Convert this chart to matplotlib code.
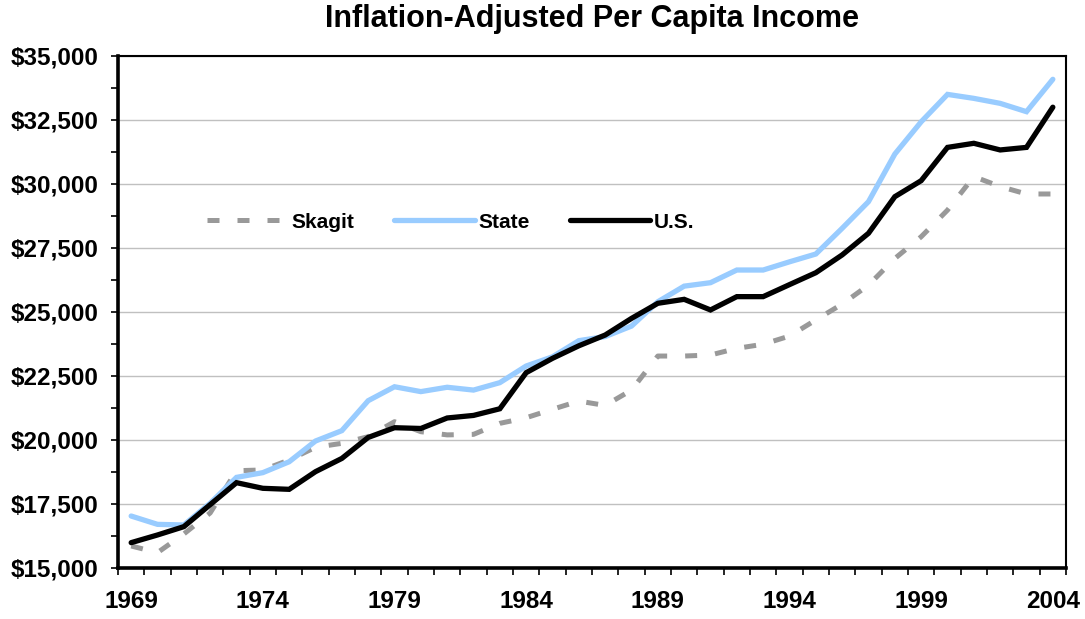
import matplotlib
matplotlib.use("Agg")
import matplotlib.pyplot as plt
from matplotlib.ticker import FuncFormatter, MultipleLocator, FixedLocator

years = list(range(1969, 2005))
skagit = [15860, 15600, 16330, 17150, 18800, 18830, 19220, 19715, 19870, 20130,
          20715, 20325, 20200, 20220, 20650, 20870, 21200, 21520, 21350, 21950,
          23280, 23280, 23320, 23580, 23740, 24060, 24690, 25310, 26050, 27090,
          27940, 28980, 30290, 29900, 29610, 29610]
state = [17030, 16705, 16680, 17530, 18540, 18725, 19150, 19960, 20365, 21535,
         22080, 21890, 22060, 21950, 22240, 22890, 23250, 23880, 24040, 24450,
         25400, 26010, 26145, 26640, 26640, 26960, 27265, 28270, 29310, 31170,
         32430, 33500, 33345, 33150, 32825, 34090]
us = [15990, 16290, 16615, 17475, 18333, 18113, 18073, 18763, 19280, 20100,
      20480, 20450, 20860, 20960, 21220, 22630, 23190, 23680, 24100, 24750,
      25340, 25495, 25080, 25600, 25600, 26070, 26535, 27230, 28075, 29505,
      30130, 31430, 31590, 31330, 31430, 33000]
title = "Inflation-Adjusted Per Capita Income"

plt.rcParams['font.family'] = ['Liberation Sans', 'DejaVu Sans']

fig = plt.figure(figsize=(10.85, 6.19), dpi=100)
ax = fig.add_axes([118/1085, 1 - 568/619, (1066-118)/1085, (568-56)/619])

x = list(range(len(years)))
ax.plot(x, skagit, color='#999999', lw=3.6, linestyle=(0, (2.4, 3.6)),
        dash_capstyle='butt', label='Skagit', zorder=3)
ax.plot(x, state, color='#99CCFF', lw=3.8, label='State', zorder=4,
        solid_capstyle='round', solid_joinstyle='miter')
ax.plot(x, us, color='black', lw=3.8, label='U.S.', zorder=5,
        solid_capstyle='round', solid_joinstyle='miter')

ax.set_xlim(-0.5, len(years) - 0.5)
ax.set_ylim(15000, 35000)

ax.yaxis.set_major_locator(MultipleLocator(2500))
ax.yaxis.set_minor_locator(MultipleLocator(1250))
ax.yaxis.set_major_formatter(FuncFormatter(lambda v, p: "${:,.0f}".format(v)))
ax.grid(axis='y', which='major', color='#c0c0c0', lw=1.0, zorder=0)
ax.set_axisbelow(True)

major_idx = [i for i in x if (years[i] - 1969) % 5 == 0]
ax.set_xticks(major_idx)
ax.set_xticklabels([str(years[i]) for i in major_idx])
ax.xaxis.set_minor_locator(FixedLocator([i - 0.5 for i in range(len(years) + 1)]))
ax.tick_params(axis='x', which='major', length=0, pad=16, labelsize=17.5)
ax.tick_params(axis='x', which='minor', length=5, width=1.2, direction='out')
ax.tick_params(axis='y', which='both', length=5, width=1.2, direction='out',
               labelsize=17.5, pad=9)
for lab in ax.get_xticklabels() + ax.get_yticklabels():
    lab.set_fontweight('bold')

for s in ['left', 'bottom']:
    ax.spines[s].set_linewidth(2.6)
for s in ['top', 'right']:
    ax.spines[s].set_linewidth(1.5)

leg = ax.legend(loc='center', bbox_to_anchor=((451 - 118) / 948, (568 - 222) / 512),
                ncol=3, frameon=True, fontsize=15, handlelength=3.85,
                columnspacing=1.9, handletextpad=0.2, borderpad=0.3)
leg.get_frame().set_facecolor('white')
leg.get_frame().set_edgecolor('none')
leg.get_frame().set_alpha(1)
for t in leg.get_texts():
    t.set_fontweight('bold')

fig.text(592 / 1085, 1 - 19 / 619, title, ha='center', va='center',
         fontsize=22, fontweight='bold')

fig.savefig('out.png', dpi=100)
